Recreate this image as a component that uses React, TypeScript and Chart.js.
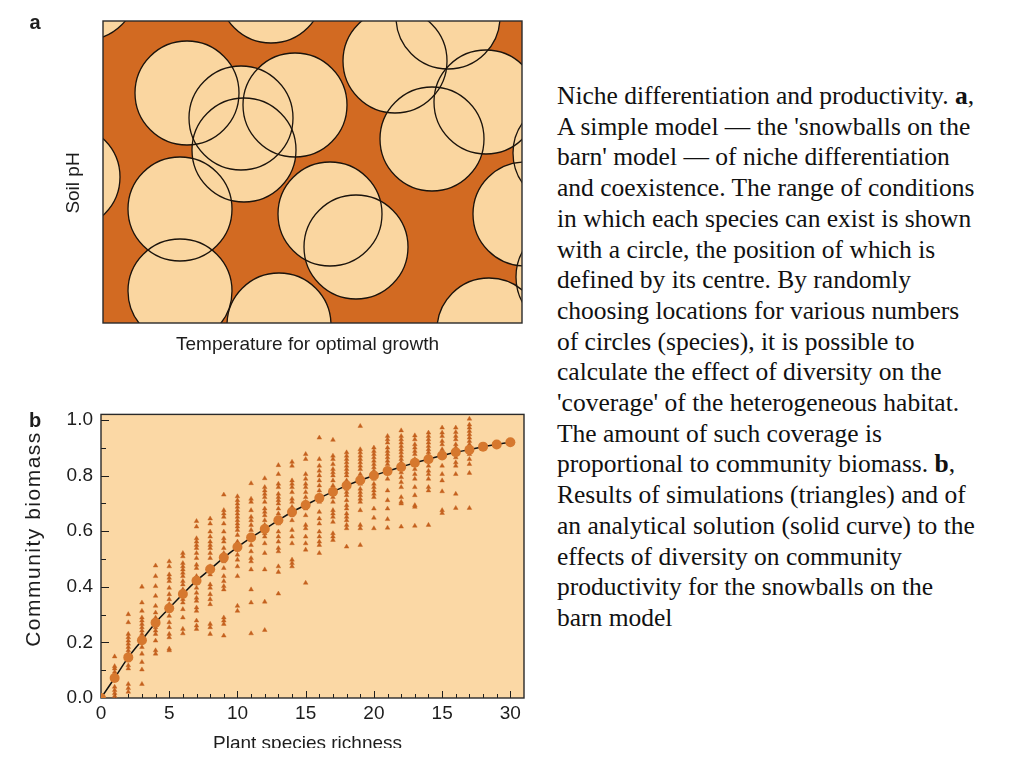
import React, { useEffect, useRef } from "react";
import { Chart, registerables } from "chart.js";

Chart.register(...registerables);

// ---------------- Panel a: "snowballs on the barn" ----------------
// circle centres in plot units (1 unit = 1 px of the 419 x 302 habitat box)
const CIRCLE_TEMPERATURE = [-18, 168, 84, 138, 192, 141, 77, 77, -35, 227, 253, 176, 292, 345, 383, 329, 462, 422, 465, 386];
const CIRCLE_SOIL_PH = [335, 332, 230, 205, 218, 173, 114, 32, 146, 109, 76, -2, 262, 306, 221, 184, 170, 109, 46, -7];
const CIRCLE_RADIUS = 52;
const HABITAT_T_MAX = 419;
const HABITAT_PH_MAX = 302;
const PANEL_A_LETTER = "a";
const PANEL_A_X_TITLE = "Temperature for optimal growth";
const PANEL_A_Y_TITLE = "Soil pH";

// ---------------- Panel b: biomass vs richness ----------------
const RICHNESS = [0, 1, 2, 3, 4, 5, 6, 7, 8, 9, 10, 11, 12, 13, 14, 15, 16, 17, 18, 19, 20, 21, 22, 23, 24, 25, 26, 27, 28, 29, 30];
const ANALYTICAL = [0, 0.072, 0.146, 0.208, 0.271, 0.323, 0.374, 0.422, 0.463, 0.505, 0.543, 0.577, 0.608, 0.639, 0.669, 0.694, 0.719, 0.742, 0.764, 0.783, 0.8, 0.816, 0.831, 0.846, 0.859, 0.872, 0.884, 0.893, 0.904, 0.912, 0.92];

const SIM_RICHNESS = [1, 2, 3, 4, 5, 6, 7, 8, 9, 10, 11, 12, 13, 14, 15, 16, 17, 18, 19, 20, 21, 22, 23, 24, 25, 26, 27];
const SIM_BIOMASS = [
  [0.149, 0.114, 0.106, 0.094, 0.082, 0.064, 0.04, 0.028, 0.017, 0.007],
  [0.301, 0.272, 0.23, 0.218, 0.206, 0.195, 0.183, 0.171, 0.159, 0.135, 0.117, 0.106, 0.05, 0.035, 0.022],
  [0.4, 0.343, 0.313, 0.289, 0.278, 0.266, 0.254, 0.242, 0.23, 0.218, 0.2, 0.183, 0.159, 0.129, 0.102, 0.05],
  [0.476, 0.438, 0.402, 0.367, 0.331, 0.307, 0.289, 0.272, 0.254, 0.242, 0.23, 0.206, 0.171, 0.159],
  [0.491, 0.473, 0.444, 0.432, 0.42, 0.396, 0.373, 0.355, 0.337, 0.325, 0.313, 0.295, 0.272, 0.254, 0.23, 0.218, 0.177, 0.171],
  [0.521, 0.509, 0.485, 0.473, 0.462, 0.45, 0.438, 0.42, 0.408, 0.39, 0.373, 0.355, 0.343, 0.319, 0.289, 0.248, 0.232],
  [0.636, 0.616, 0.574, 0.562, 0.55, 0.539, 0.521, 0.503, 0.479, 0.467, 0.438, 0.414, 0.396, 0.378, 0.36, 0.349, 0.325, 0.313, 0.278, 0.26, 0.248],
  [0.645, 0.627, 0.598, 0.58, 0.562, 0.55, 0.539, 0.521, 0.503, 0.473, 0.444, 0.408, 0.396, 0.373, 0.355, 0.337, 0.266, 0.254, 0.23],
  [0.731, 0.675, 0.663, 0.651, 0.627, 0.598, 0.574, 0.562, 0.539, 0.521, 0.491, 0.467, 0.438, 0.42, 0.402, 0.39, 0.289, 0.278, 0.266, 0.224],
  [0.725, 0.711, 0.699, 0.687, 0.675, 0.663, 0.651, 0.639, 0.627, 0.616, 0.604, 0.586, 0.562, 0.533, 0.515, 0.497, 0.473, 0.438, 0.331, 0.313],
  [0.772, 0.716, 0.705, 0.675, 0.651, 0.639, 0.622, 0.604, 0.574, 0.55, 0.527, 0.503, 0.491, 0.462, 0.39, 0.343, 0.232],
  [0.79, 0.758, 0.746, 0.734, 0.722, 0.705, 0.681, 0.669, 0.657, 0.639, 0.622, 0.592, 0.58, 0.556, 0.521, 0.462, 0.346, 0.244],
  [0.837, 0.805, 0.77, 0.758, 0.734, 0.722, 0.711, 0.699, 0.681, 0.663, 0.645, 0.627, 0.598, 0.58, 0.562, 0.539, 0.527, 0.473, 0.453, 0.375],
  [0.849, 0.835, 0.782, 0.77, 0.758, 0.74, 0.716, 0.705, 0.687, 0.675, 0.657, 0.639, 0.604, 0.58, 0.556, 0.497, 0.485, 0.473],
  [0.877, 0.859, 0.805, 0.788, 0.77, 0.758, 0.74, 0.722, 0.705, 0.681, 0.657, 0.622, 0.61, 0.58, 0.556, 0.533, 0.414],
  [0.936, 0.859, 0.835, 0.817, 0.8, 0.782, 0.764, 0.746, 0.729, 0.705, 0.669, 0.645, 0.627, 0.598, 0.58, 0.562, 0.55, 0.521],
  [0.928, 0.871, 0.859, 0.841, 0.823, 0.811, 0.8, 0.782, 0.764, 0.752, 0.722, 0.705, 0.675, 0.663, 0.651, 0.633, 0.592, 0.58, 0.568],
  [0.883, 0.871, 0.859, 0.847, 0.835, 0.823, 0.811, 0.8, 0.782, 0.752, 0.74, 0.729, 0.711, 0.693, 0.681, 0.663, 0.651, 0.639, 0.622, 0.61, 0.544],
  [0.978, 0.894, 0.883, 0.871, 0.859, 0.847, 0.835, 0.823, 0.805, 0.77, 0.752, 0.74, 0.729, 0.716, 0.705, 0.675, 0.622, 0.61, 0.55],
  [0.9, 0.888, 0.877, 0.865, 0.853, 0.841, 0.829, 0.817, 0.788, 0.77, 0.758, 0.746, 0.734, 0.722, 0.681, 0.648, 0.61],
  [0.942, 0.93, 0.918, 0.9, 0.888, 0.877, 0.865, 0.853, 0.841, 0.788, 0.746, 0.711, 0.681, 0.643, 0.612],
  [0.962, 0.942, 0.93, 0.918, 0.906, 0.894, 0.883, 0.871, 0.859, 0.847, 0.829, 0.811, 0.794, 0.776, 0.758, 0.722, 0.705, 0.699, 0.616],
  [0.944, 0.93, 0.912, 0.9, 0.888, 0.877, 0.859, 0.841, 0.823, 0.805, 0.788, 0.758, 0.729, 0.693, 0.687, 0.619],
  [0.954, 0.942, 0.93, 0.918, 0.906, 0.894, 0.883, 0.871, 0.853, 0.835, 0.817, 0.805, 0.788, 0.758, 0.746, 0.622],
  [0.972, 0.954, 0.942, 0.924, 0.912, 0.894, 0.877, 0.865, 0.835, 0.805, 0.782, 0.743, 0.675, 0.665],
  [0.972, 0.956, 0.942, 0.93, 0.912, 0.9, 0.883, 0.865, 0.847, 0.835, 0.805, 0.734, 0.683],
  [1.004, 0.983, 0.972, 0.96, 0.948, 0.936, 0.924, 0.912, 0.9, 0.877, 0.859, 0.841, 0.809, 0.683],
];

const X_TICK_VALUES = [0, 5, 10, 15, 20, 25, 30];
const X_TICK_LABELS = ["0", "5", "10", "15", "20", "15", "30"];
const Y_TICK_VALUES = [0, 0.2, 0.4, 0.6, 0.8, 1.0];
const Y_TICK_LABELS = ["0.0", "0.2", "0.4", "0.6", "0.8", "1.0"];
const PANEL_B_LETTER = "b";
const PANEL_B_X_TITLE = "Plant species richness";
const PANEL_B_Y_TITLE = "Community biomass";

const CAPTION_LINES: Array<[string, string?, string?]> = [
  ["Niche differentiation and productivity. ", "a", ","],
  ["A simple model \u2014 the 'snowballs on the"],
  ["barn' model \u2014 of niche differentiation"],
  ["and coexistence. The range of conditions"],
  ["in which each species can exist is shown"],
  ["with a circle, the position of which is"],
  ["defined by its centre. By randomly"],
  ["choosing locations for various numbers"],
  ["of circles (species), it is possible to"],
  ["calculate the effect of diversity on the"],
  ["'coverage' of the heterogeneous habitat."],
  ["The amount of such coverage is"],
  ["proportional to community biomass. ", "b", ","],
  ["Results of simulations (triangles) and of"],
  ["an analytical solution (solid curve) to the"],
  ["effects of diversity on community"],
  ["productivity for the snowballs on the"],
  ["barn model"],
];

const SANS = '"Liberation Sans", Arial, Helvetica, sans-serif';
const BARN = "#D26A22";
const SNOW = "#FAD6A0";
const PANEL_B_BG = "#FBD8A5";
const DOT = "#D6782E";
const TRI = "#C4611E";
const INK = "#1d1d1d";

function drawText(
  ctx: CanvasRenderingContext2D,
  text: string,
  x: number,
  y: number,
  font: string,
  rot = 0,
  baseline: CanvasTextBaseline = "middle",
  spacing = "0px"
) {
  ctx.save();
  ctx.translate(x, y);
  ctx.rotate(rot);
  ctx.font = font;
  (ctx as any).letterSpacing = spacing;
  ctx.fillStyle = INK;
  ctx.textAlign = "center";
  ctx.textBaseline = baseline;
  ctx.fillText(text, 0, 0);
  ctx.restore();
}

const panelAPlugin = {
  id: "panelA",
  beforeDatasetsDraw(chart: any) {
    const { ctx, chartArea: a } = chart;
    ctx.save();
    ctx.fillStyle = BARN;
    ctx.fillRect(a.left, a.top, a.right - a.left, a.bottom - a.top);
    ctx.restore();
  },
  afterDraw(chart: any) {
    const { ctx, chartArea: a } = chart;
    ctx.save();
    ctx.strokeStyle = "#2a2a2a";
    ctx.lineWidth = 1.4;
    ctx.strokeRect(a.left, a.top, a.right - a.left, a.bottom - a.top);
    ctx.restore();
    drawText(ctx, PANEL_A_LETTER, 35, 23, `bold 20px ${SANS}`);
    drawText(ctx, PANEL_A_Y_TITLE, 74, 183, `19px ${SANS}`, -Math.PI / 2);
    drawText(ctx, PANEL_A_X_TITLE, 307.5, 345, `19px ${SANS}`);
  },
};

const panelBPlugin = {
  id: "panelB",
  beforeDatasetsDraw(chart: any) {
    const { ctx, chartArea: a } = chart;
    const xs = chart.scales.x;
    const ys = chart.scales.y;
    ctx.save();
    ctx.fillStyle = PANEL_B_BG;
    ctx.fillRect(a.left, a.top, a.right - a.left, a.bottom - a.top);
    ctx.strokeStyle = INK;
    ctx.lineWidth = 1;
    ctx.beginPath();
    xs.ticks.forEach((t: any) => {
      if (t.value <= xs.min || t.value >= xs.max) return;
      const px = Math.round(xs.getPixelForValue(t.value)) + 0.5;
      const major = X_TICK_VALUES.some((v) => Math.abs(v - t.value) < 1e-6);
      ctx.moveTo(px, a.bottom);
      ctx.lineTo(px, a.bottom - (major ? 7 : 4));
    });
    ys.ticks.forEach((t: any) => {
      if (t.value <= ys.min + 1e-6 || t.value >= ys.max - 1e-6) return;
      const py = Math.round(ys.getPixelForValue(t.value)) + 0.5;
      const major = Y_TICK_VALUES.some((v) => Math.abs(v - t.value) < 1e-6);
      ctx.moveTo(a.left, py);
      ctx.lineTo(a.left + (major ? 8 : 5), py);
    });
    ctx.stroke();
    ctx.lineWidth = 1.4;
    ctx.strokeStyle = "#2a2a2a";
    ctx.strokeRect(a.left, a.top, a.right - a.left, a.bottom - a.top);
    ctx.restore();
  },
  afterDraw(chart: any) {
    const { ctx } = chart;
    drawText(ctx, PANEL_B_LETTER, 35, 26, `bold 20px ${SANS}`);
    drawText(ctx, PANEL_B_Y_TITLE, 34, 144, `21px ${SANS}`, -Math.PI / 2, "middle", "1.5px");
    drawText(ctx, PANEL_B_X_TITLE, 307.5, 354, `19px ${SANS}`, 0, "alphabetic");
  },
};

function PanelA() {
  const ref = useRef<HTMLCanvasElement>(null);
  useEffect(() => {
    const pts = CIRCLE_TEMPERATURE.map((t, i) => ({ x: t, y: CIRCLE_SOIL_PH[i], r: CIRCLE_RADIUS }));
    const chart = new Chart(ref.current!, {
      type: "bubble",
      data: {
        datasets: [
          { label: "outline", data: pts, backgroundColor: "rgba(0,0,0,0)", borderColor: "#1a130c", borderWidth: 1.3, clip: 0 } as any,
          { label: "niche", data: pts, backgroundColor: SNOW, borderColor: "rgba(0,0,0,0)", borderWidth: 0, clip: 0 } as any,
        ],
      },
      options: {
        responsive: false,
        animation: false,
        events: [],
        layout: { autoPadding: false, padding: { left: 103, top: 21, right: 18, bottom: 42 } } as any,
        scales: {
          x: { type: "linear", min: 0, max: HABITAT_T_MAX, display: false },
          y: { type: "linear", min: 0, max: HABITAT_PH_MAX, display: false },
        },
        plugins: { legend: { display: false }, tooltip: { enabled: false } },
      },
      plugins: [panelAPlugin],
    });
    return () => chart.destroy();
  }, []);
  return <canvas ref={ref} width={540} height={365} style={{ position: "absolute", left: 0, top: 0, width: 540, height: 365 }} />;
}

function PanelB() {
  const ref = useRef<HTMLCanvasElement>(null);
  useEffect(() => {
    const curve = RICHNESS.map((x, i) => ({ x, y: ANALYTICAL[i] }));
    const sims: { x: number; y: number }[] = [];
    SIM_RICHNESS.forEach((x, i) => SIM_BIOMASS[i].forEach((y) => sims.push({ x, y })));
    const chart = new Chart(ref.current!, {
      type: "scatter",
      data: {
        datasets: [
          {
            label: "Analytical solution",
            data: curve,
            showLine: true,
            tension: 0.4,
            borderColor: "#111111",
            borderWidth: 1.5,
            pointRadius: 5,
            pointBackgroundColor: DOT,
            pointBorderColor: DOT,
            pointBorderWidth: 0,
          } as any,
          {
            label: "Simulations",
            data: sims,
            pointStyle: "triangle",
            pointRadius: 2.7,
            backgroundColor: TRI,
            borderColor: TRI,
            borderWidth: 0.4,
          } as any,
        ],
      },
      options: {
        responsive: false,
        animation: false,
        events: [],
        layout: { autoPadding: false, padding: { left: 0, top: 16, right: 16, bottom: 0 } } as any,
        scales: {
          x: {
            type: "linear",
            min: 0,
            max: 31,
            border: { display: false },
            grid: { display: false, drawTicks: false },
            afterFit: (s: any) => { s.height = 50; },
            ticks: {
              stepSize: 1,
              autoSkip: false,
              includeBounds: false,
              maxRotation: 0,
              padding: 4,
              color: INK,
              font: { family: SANS, size: 19 },
              callback: (v: any) => {
                const i = X_TICK_VALUES.findIndex((t) => Math.abs(t - Number(v)) < 1e-6);
                return i >= 0 ? X_TICK_LABELS[i] : "";
              },
            },
          },
          y: {
            type: "linear",
            min: 0,
            max: 1.02,
            border: { display: false },
            grid: { display: false, drawTicks: false },
            afterFit: (s: any) => { s.width = 101; },
            ticks: {
              stepSize: 0.1,
              autoSkip: false,
              includeBounds: false,
              padding: 8,
              color: INK,
              font: { family: SANS, size: 19 },
              callback: (v: any) => {
                const i = Y_TICK_VALUES.findIndex((t) => Math.abs(t - Number(v)) < 1e-6);
                return i >= 0 ? Y_TICK_LABELS[i] : "";
              },
            },
          },
        },
        plugins: { legend: { display: false }, tooltip: { enabled: false } },
      },
      plugins: [panelBPlugin],
    });
    return () => chart.destroy();
  }, []);
  return <canvas ref={ref} width={540} height={353} style={{ position: "absolute", left: 0, top: 395, width: 540, height: 353 }} />;
}

export default function App() {
  return (
    <div style={{ position: "absolute", left: 0, top: 0, width: 1024, height: 768, background: "#ffffff", overflow: "hidden" }}>
      <PanelA />
      <PanelB />
      <div
        style={{
          position: "absolute",
          left: 557,
          top: 81,
          fontFamily: '"Liberation Serif", "Times New Roman", Times, serif',
          fontSize: "25.5px",
          lineHeight: "30.7px",
          color: "#111111",
        }}
      >
        {CAPTION_LINES.map((l, i) => (
          <div key={i} style={{ whiteSpace: "nowrap" }}>
            {l[0]}
            {l[1] ? <b>{l[1]}</b> : null}
            {l[2] ?? null}
          </div>
        ))}
      </div>
    </div>
  );
}
